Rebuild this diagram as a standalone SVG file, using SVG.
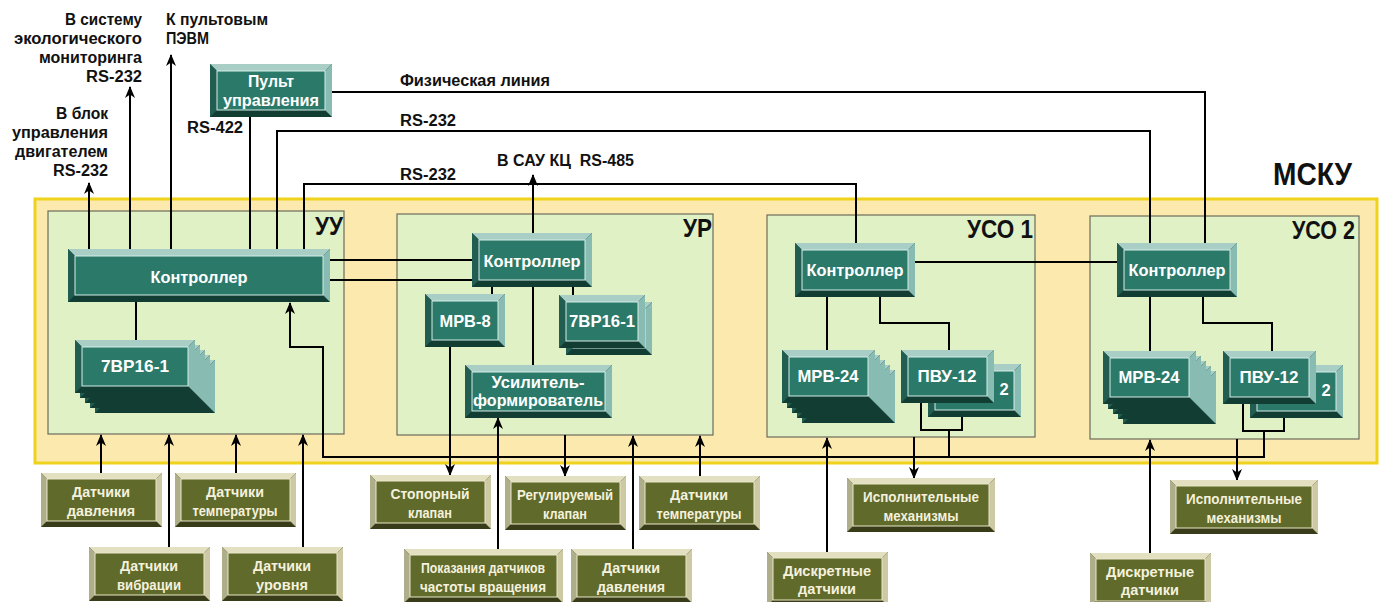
<svg xmlns="http://www.w3.org/2000/svg" xmlns:xlink="http://www.w3.org/1999/xlink" width="1387" height="602" viewBox="0 0 1387 602">
<style>
text{font-family:"Liberation Sans","Noto Sans",Arial,sans-serif;font-weight:700}
.lb{font-size:16px;fill:#111}
.big{font-size:25px;fill:#111}
.tw{font-size:16.5px;fill:#fff;text-anchor:middle}
.ow{font-size:14px;fill:#f5f1dc;text-anchor:middle}
.tb{fill:#113d33}.tt{fill:#a9cec6}.tr{fill:#88bbb1}.tl{fill:#215d50}
.tf{fill:#2b7a69;stroke:#d6ede7;stroke-width:1}
.ob{fill:#393c18}.ot{fill:#e3e0c2}.or{fill:#cdc9a4}.ol{fill:#aeae8a}
.of{fill:#5f6a2b;stroke:#ece8c8;stroke-width:1}
.cn path{fill:none;stroke:#000;stroke-width:2}
.ar{marker-end:url(#ah)}
.cont{fill:#e0f1c6;stroke:#6c6c5c;stroke-width:1.2}
</style>
<defs>
<marker id="ah" markerUnits="userSpaceOnUse" viewBox="0 0 12 10" markerWidth="12" markerHeight="10" refX="11" refY="5" orient="auto"><path d="M0,0L12,5L0,10L3.5,5z" fill="#000"/></marker>
<g id="t122"><rect class="tb" width="122" height="53"/><path class="tt" d="M0,0h122l-7,7h-108z"/><path class="tr" d="M122,0v53l-7,-7v-39z"/><path class="tl" d="M0,0l7,7v39l-7,7z"/><rect class="tf" x="7" y="7" width="108" height="39"/></g>
<g id="t262"><rect class="tb" width="262" height="53"/><path class="tt" d="M0,0h262l-7,7h-248z"/><path class="tr" d="M262,0v53l-7,-7v-39z"/><path class="tl" d="M0,0l7,7v39l-7,7z"/><rect class="tf" x="7" y="7" width="248" height="39"/></g>
<g id="t120s"><rect class="tb" width="120" height="53"/><path class="tt" d="M0,0h120l-7,7h-106z"/><path class="tr" d="M120,0v53l-7,-7v-39z"/><path class="tl" d="M0,0l7,7v39l-7,7z"/><rect class="tf" x="7" y="7" width="106" height="39"/></g>
<g id="t120"><rect class="tb" width="120" height="54"/><path class="tt" d="M0,0h120l-7,7h-106z"/><path class="tr" d="M120,0v54l-7,-7v-40z"/><path class="tl" d="M0,0l7,7v40l-7,7z"/><rect class="tf" x="7" y="7" width="106" height="40"/></g>
<g id="t80"><rect class="tb" width="80" height="53"/><path class="tt" d="M0,0h80l-7,7h-66z"/><path class="tr" d="M80,0v53l-7,-7v-39z"/><path class="tl" d="M0,0l7,7v39l-7,7z"/><rect class="tf" x="7" y="7" width="66" height="39"/></g>
<g id="t86"><rect class="tb" width="86" height="53"/><path class="tt" d="M0,0h86l-7,7h-72z"/><path class="tr" d="M86,0v53l-7,-7v-39z"/><path class="tl" d="M0,0l7,7v39l-7,7z"/><rect class="tf" x="7" y="7" width="72" height="39"/></g>
<g id="t147"><rect class="tb" width="147" height="53"/><path class="tt" d="M0,0h147l-7,7h-133z"/><path class="tr" d="M147,0v53l-7,-7v-39z"/><path class="tl" d="M0,0l7,7v39l-7,7z"/><rect class="tf" x="7" y="7" width="133" height="39"/></g>
<g id="t93"><rect class="tb" width="93" height="53"/><path class="tt" d="M0,0h93l-7,7h-79z"/><path class="tr" d="M93,0v53l-7,-7v-39z"/><path class="tl" d="M0,0l7,7v39l-7,7z"/><rect class="tf" x="7" y="7" width="79" height="39"/></g>
<g id="o121"><rect class="ob" width="121" height="54"/><path class="ot" d="M0,0h121l-6,6h-109z"/><path class="or" d="M121,0v54l-6,-6v-42z"/><path class="ol" d="M0,0l6,6v42l-6,6z"/><rect class="of" x="6" y="6" width="109" height="42"/></g>
<g id="o159"><rect class="ob" width="159" height="54"/><path class="ot" d="M0,0h159l-6,6h-147z"/><path class="or" d="M159,0v54l-6,-6v-42z"/><path class="ol" d="M0,0l6,6v42l-6,6z"/><rect class="of" x="6" y="6" width="147" height="42"/></g>
<g id="o148"><rect class="ob" width="148" height="54"/><path class="ot" d="M0,0h148l-6,6h-136z"/><path class="or" d="M148,0v54l-6,-6v-42z"/><path class="ol" d="M0,0l6,6v42l-6,6z"/><rect class="of" x="6" y="6" width="136" height="42"/></g>
</defs>
<rect width="1387" height="602" fill="#fff"/>

<g id="mscu">
<rect x="35" y="199" width="1342" height="264" fill="#fce9ad" stroke="#efd21c" stroke-width="3"/>
<text class="big" x="1352" y="185" text-anchor="end" style="font-size:32px" textLength="79" lengthAdjust="spacingAndGlyphs">МСКУ</text>
</g>
<g id="uu"><rect class="cont" x="48" y="211" width="296" height="223"/><text class="big" x="343" y="235" text-anchor="end" textLength="28" lengthAdjust="spacingAndGlyphs">УУ</text></g>
<g id="ur"><rect class="cont" x="397" y="214" width="316" height="221"/><text class="big" x="712" y="237" text-anchor="end" textLength="29" lengthAdjust="spacingAndGlyphs">УР</text></g>
<g id="uso1"><rect class="cont" x="767" y="215" width="268" height="222"/><text class="big" x="1033" y="238" text-anchor="end" textLength="66" lengthAdjust="spacingAndGlyphs">УСО 1</text></g>
<g id="uso2"><rect class="cont" x="1090" y="216" width="269" height="223"/><text class="big" x="1355" y="239" text-anchor="end" textLength="63" lengthAdjust="spacingAndGlyphs">УСО 2</text></g>

<g id="connectors" class="cn">
<path class="ar" d="M89,249V183"/>
<path class="ar" d="M130,249V87"/>
<path class="ar" d="M171,249V55"/>
<path d="M250,117V249"/>
<path d="M277,249V131H1150V243"/>
<path d="M304,249V184H856V243"/>
<path d="M332,92H1205V243"/>
<path d="M330,260H472"/>
<path d="M330,280H472"/>
<path d="M136,302V340"/>
<path class="ar" d="M1264,431V457H323V347H290V303"/>
<path d="M949,430V457"/>
<path class="ar" d="M533,233V175"/>
<path d="M492,287V294"/>
<path d="M533,287V365"/>
<path d="M573,287V295"/>
<path class="ar" d="M450,347V475"/>
<path class="ar" d="M565,435V476"/>
<path class="ar" d="M498,549V418"/>
<path class="ar" d="M633,549V436"/>
<path class="ar" d="M700,476V436"/>
<path class="ar" d="M101,473V435"/>
<path class="ar" d="M236,473V435"/>
<path class="ar" d="M169,547V435"/>
<path class="ar" d="M303,547V435"/>
<path d="M915,262H1117"/>
<path d="M827,297V350"/>
<path d="M880,297V323H949V350"/>
<path d="M921,403V430H962V417"/>
<path class="ar" d="M914,437V478"/>
<path class="ar" d="M827,552V438"/>
<path d="M1150,297V351"/>
<path d="M1203,297V323H1272V351"/>
<path d="M1243,404V431H1284V418"/>
<path class="ar" d="M1237,439V480"/>
<path class="ar" d="M1150,553V440"/>
</g>

<g id="labels">
<text class="lb" x="142" y="25" text-anchor="end" textLength="77" lengthAdjust="spacingAndGlyphs">В систему</text>
<text class="lb" x="142" y="44" text-anchor="end" textLength="128" lengthAdjust="spacingAndGlyphs">экологического</text>
<text class="lb" x="142" y="63" text-anchor="end" textLength="103" lengthAdjust="spacingAndGlyphs">мониторинга</text>
<text class="lb" x="142" y="82" text-anchor="end" textLength="56" lengthAdjust="spacingAndGlyphs">RS-232</text>
<text class="lb" x="166" y="25" textLength="102" lengthAdjust="spacingAndGlyphs">К пультовым</text>
<text class="lb" x="166" y="44" textLength="43" lengthAdjust="spacingAndGlyphs">ПЭВМ</text>
<text class="lb" x="108" y="119" text-anchor="end" textLength="52" lengthAdjust="spacingAndGlyphs">В блок</text>
<text class="lb" x="108" y="138" text-anchor="end" textLength="96" lengthAdjust="spacingAndGlyphs">управления</text>
<text class="lb" x="108" y="157" text-anchor="end" textLength="93" lengthAdjust="spacingAndGlyphs">двигателем</text>
<text class="lb" x="108" y="176" text-anchor="end" textLength="55" lengthAdjust="spacingAndGlyphs">RS-232</text>
<text class="lb" x="243" y="133" text-anchor="end" textLength="56" lengthAdjust="spacingAndGlyphs">RS-422</text>
<text class="lb" x="400" y="86" textLength="150" lengthAdjust="spacingAndGlyphs">Физическая линия</text>
<text class="lb" x="400" y="126" textLength="56" lengthAdjust="spacingAndGlyphs">RS-232</text>
<text class="lb" x="400" y="180" textLength="56" lengthAdjust="spacingAndGlyphs">RS-232</text>
<text class="lb" x="497" y="166" textLength="137" lengthAdjust="spacingAndGlyphs" xml:space="preserve">В САУ КЦ  RS-485</text>
</g>

<g id="pult"><use href="#t122" x="210" y="64"/><text class="tw" x="271" y="87" textLength="46" lengthAdjust="spacingAndGlyphs">Пульт</text><text class="tw" x="271" y="106" textLength="96" lengthAdjust="spacingAndGlyphs">управления</text></g>
<g id="uu-ctrl"><use href="#t262" x="68" y="249"/><text class="tw" x="199" y="283" textLength="97" lengthAdjust="spacingAndGlyphs">Контроллер</text></g>
<g id="uu-7vr"><use href="#t120s" x="95" y="360"/><use href="#t120s" x="90" y="355"/><use href="#t120s" x="85" y="350"/><use href="#t120s" x="80" y="345"/><use href="#t120s" x="75" y="340"/><text class="tw" x="135" y="372" textLength="68" lengthAdjust="spacingAndGlyphs">7ВР16-1</text></g>
<g id="ur-ctrl"><use href="#t120" x="472" y="233"/><text class="tw" x="532" y="267" textLength="97" lengthAdjust="spacingAndGlyphs">Контроллер</text></g>
<g id="ur-mrv8"><use href="#t80" x="425" y="294"/><text class="tw" x="465" y="327" textLength="51" lengthAdjust="spacingAndGlyphs">МРВ-8</text></g>
<g id="ur-7vr"><use href="#t86" x="566" y="302"/><use href="#t86" x="559" y="295"/><text class="tw" x="602" y="327" textLength="66" lengthAdjust="spacingAndGlyphs">7ВР16-1</text></g>
<g id="ur-amp"><use href="#t147" x="465" y="365"/><text class="tw" x="538" y="387.5" style="font-size:16px" textLength="93" lengthAdjust="spacingAndGlyphs">Усилитель-</text><text class="tw" x="538" y="406" style="font-size:16px" textLength="130" lengthAdjust="spacingAndGlyphs">формирователь</text></g>
<g id="uso1-ctrl"><use href="#t120" x="795" y="243"/><text class="tw" x="855" y="276" textLength="97" lengthAdjust="spacingAndGlyphs">Контроллер</text></g>
<g id="uso1-mrv24"><use href="#t93" x="802" y="370"/><use href="#t93" x="797" y="365"/><use href="#t93" x="792" y="360"/><use href="#t93" x="787" y="355"/><use href="#t93" x="782" y="350"/><text class="tw" x="828" y="382" textLength="61" lengthAdjust="spacingAndGlyphs">МРВ-24</text></g>
<g id="uso1-pvu"><use href="#t93" x="928" y="364"/><text class="tw" x="1004" y="395">2</text><use href="#t93" x="901" y="350"/><text class="tw" x="947" y="382" textLength="59" lengthAdjust="spacingAndGlyphs">ПВУ-12</text></g>
<g id="uso2-ctrl"><use href="#t120" x="1117" y="243"/><text class="tw" x="1177" y="276" textLength="97" lengthAdjust="spacingAndGlyphs">Контроллер</text></g>
<g id="uso2-mrv24"><use href="#t93" x="1123" y="371"/><use href="#t93" x="1118" y="366"/><use href="#t93" x="1113" y="361"/><use href="#t93" x="1108" y="356"/><use href="#t93" x="1103" y="351"/><text class="tw" x="1149" y="383" textLength="61" lengthAdjust="spacingAndGlyphs">МРВ-24</text></g>
<g id="uso2-pvu"><use href="#t93" x="1250" y="365"/><text class="tw" x="1326" y="396">2</text><use href="#t93" x="1223" y="351"/><text class="tw" x="1269" y="383" textLength="59" lengthAdjust="spacingAndGlyphs">ПВУ-12</text></g>

<g id="s-dd1"><use href="#o121" x="41" y="473"/><text class="ow" x="101" y="497" textLength="58" lengthAdjust="spacingAndGlyphs">Датчики</text><text class="ow" x="101" y="516" textLength="68" lengthAdjust="spacingAndGlyphs">давления</text></g>
<g id="s-dt1"><use href="#o121" x="175" y="473"/><text class="ow" x="235" y="497" textLength="58" lengthAdjust="spacingAndGlyphs">Датчики</text><text class="ow" x="235" y="516" textLength="85" lengthAdjust="spacingAndGlyphs">температуры</text></g>
<g id="s-dv"><use href="#o121" x="89" y="547"/><text class="ow" x="149" y="571" textLength="58" lengthAdjust="spacingAndGlyphs">Датчики</text><text class="ow" x="149" y="590" textLength="64" lengthAdjust="spacingAndGlyphs">вибрации</text></g>
<g id="s-du"><use href="#o121" x="222" y="547"/><text class="ow" x="282" y="571" textLength="58" lengthAdjust="spacingAndGlyphs">Датчики</text><text class="ow" x="282" y="590" textLength="52" lengthAdjust="spacingAndGlyphs">уровня</text></g>
<g id="s-sk"><use href="#o121" x="370" y="475"/><text class="ow" x="430" y="499" textLength="79" lengthAdjust="spacingAndGlyphs">Стопорный</text><text class="ow" x="430" y="518" textLength="44" lengthAdjust="spacingAndGlyphs">клапан</text></g>
<g id="s-rk"><use href="#o121" x="505" y="476"/><text class="ow" x="565" y="500" textLength="96" lengthAdjust="spacingAndGlyphs">Регулируемый</text><text class="ow" x="565" y="519" textLength="44" lengthAdjust="spacingAndGlyphs">клапан</text></g>
<g id="s-dt2"><use href="#o121" x="639" y="476"/><text class="ow" x="699" y="500" textLength="58" lengthAdjust="spacingAndGlyphs">Датчики</text><text class="ow" x="699" y="519" textLength="85" lengthAdjust="spacingAndGlyphs">температуры</text></g>
<g id="s-pch"><use href="#o159" x="404" y="549"/><text class="ow" x="483" y="573" textLength="124" lengthAdjust="spacingAndGlyphs">Показания датчиков</text><text class="ow" x="483" y="592" textLength="126" lengthAdjust="spacingAndGlyphs">частоты вращения</text></g>
<g id="s-dd2"><use href="#o121" x="571" y="549"/><text class="ow" x="631" y="573" textLength="58" lengthAdjust="spacingAndGlyphs">Датчики</text><text class="ow" x="631" y="592" textLength="68" lengthAdjust="spacingAndGlyphs">давления</text></g>
<g id="s-im1"><use href="#o148" x="847" y="478"/><text class="ow" x="921" y="502" textLength="116" lengthAdjust="spacingAndGlyphs">Исполнительные</text><text class="ow" x="921" y="521" textLength="75" lengthAdjust="spacingAndGlyphs">механизмы</text></g>
<g id="s-im2"><use href="#o148" x="1170" y="480"/><text class="ow" x="1244" y="504" textLength="116" lengthAdjust="spacingAndGlyphs">Исполнительные</text><text class="ow" x="1244" y="523" textLength="75" lengthAdjust="spacingAndGlyphs">механизмы</text></g>
<g id="s-dk1"><use href="#o121" x="767" y="552"/><text class="ow" x="827" y="576" textLength="88" lengthAdjust="spacingAndGlyphs">Дискретные</text><text class="ow" x="827" y="594" textLength="58" lengthAdjust="spacingAndGlyphs">датчики</text></g>
<g id="s-dk2"><use href="#o121" x="1090" y="553"/><text class="ow" x="1150" y="577" textLength="88" lengthAdjust="spacingAndGlyphs">Дискретные</text><text class="ow" x="1150" y="595" textLength="58" lengthAdjust="spacingAndGlyphs">датчики</text></g>
</svg>
